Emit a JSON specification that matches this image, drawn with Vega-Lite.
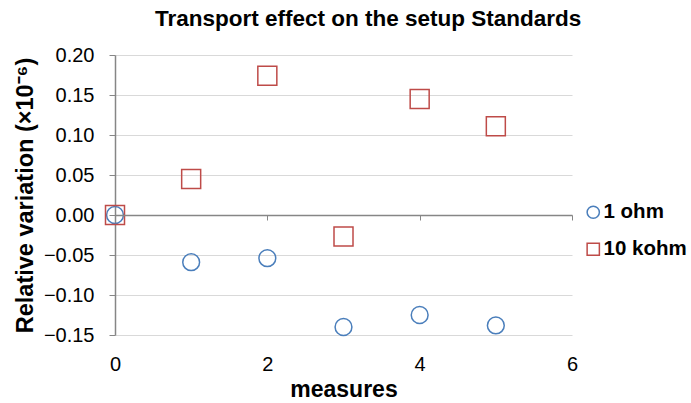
{
  "$schema": "https://vega.github.io/schema/vega-lite/v6.json",
  "width": 457,
  "height": 280,
  "autosize": {"type": "none"},
  "padding": {"left": 115, "top": 55, "right": 119, "bottom": 68},
  "background": "white",
  "title": {
    "text": "Transport effect on the setup Standards",
    "font": "Liberation Sans",
    "fontSize": 22.5,
    "fontWeight": "bold",
    "color": "black",
    "anchor": "start",
    "frame": "group",
    "dx": 40,
    "baseline": "alphabetic",
    "offset": -3
  },
  "data": {
    "values": [
      {"measure": 0, "value": 0.0, "series": "1 ohm"},
      {"measure": 1, "value": -0.059, "series": "1 ohm"},
      {"measure": 2, "value": -0.054, "series": "1 ohm"},
      {"measure": 3, "value": -0.140, "series": "1 ohm"},
      {"measure": 4, "value": -0.125, "series": "1 ohm"},
      {"measure": 5, "value": -0.138, "series": "1 ohm"},
      {"measure": 0, "value": 0.0, "series": "10 kohm"},
      {"measure": 1, "value": 0.045, "series": "10 kohm"},
      {"measure": 2, "value": 0.174, "series": "10 kohm"},
      {"measure": 3, "value": -0.027, "series": "10 kohm"},
      {"measure": 4, "value": 0.145, "series": "10 kohm"},
      {"measure": 5, "value": 0.111, "series": "10 kohm"}
    ]
  },
  "encoding": {
    "y": {
      "field": "value",
      "type": "quantitative",
      "scale": {"domain": [-0.15, 0.2], "nice": false, "zero": false},
      "axis": {
        "title": "Relative variation (×10⁻⁶)",
        "titleFont": "Liberation Sans",
        "titleFontSize": 23.5,
        "titleFontWeight": "bold",
        "titleColor": "black",
        "titlePadding": 6,
        "values": [-0.15, -0.1, -0.05, 0, 0.05, 0.1, 0.15, 0.2],
        "format": ".2f",
        "labelFont": "Liberation Sans",
        "labelFontSize": 20,
        "labelColor": "black",
        "labelPadding": 15,
        "labelFlush": false,
        "tickSize": 6,
        "tickColor": "#868686",
        "domainColor": "#868686",
        "domainWidth": 1.5,
        "grid": true,
        "gridColor": "#d9d9d9",
        "gridWidth": 1.2
      }
    }
  },
  "layer": [
    {
      "mark": {"type": "point", "opacity": 0},
      "encoding": {
        "x": {
          "field": "measure",
          "type": "quantitative",
          "scale": {"domain": [0, 6], "nice": false},
          "axis": {
            "orient": "bottom",
            "offset": -120,
            "labels": false,
            "title": null,
            "grid": false,
            "values": [0, 2, 4, 6],
            "ticks": true,
            "tickSize": 5,
            "tickColor": "#868686",
            "domainColor": "#868686",
            "domainWidth": 1.5,
            "zindex": 1
          }
        }
      }
    },
    {
      "transform": [{"filter": "datum.series === '1 ohm'"}],
      "mark": {"type": "point", "filled": false, "strokeWidth": 1.5, "opacity": 1, "size": 283},
      "encoding": {
        "x": {
          "field": "measure",
          "type": "quantitative",
          "scale": {"domain": [0, 6], "nice": false},
          "axis": {
            "orient": "bottom",
            "title": "measures",
            "titleFont": "Liberation Sans",
            "titleFontSize": 23,
            "titleFontWeight": "bold",
            "titleColor": "black",
            "titlePadding": 4,
            "values": [0, 2, 4, 6],
            "labelFont": "Liberation Sans",
            "labelFontSize": 20,
            "labelColor": "black",
            "labelPadding": 19,
            "labelFlush": false,
            "ticks": false,
            "domain": false,
            "grid": false
          }
        },
        "color": {
          "field": "series",
          "type": "nominal",
          "scale": {"domain": ["1 ohm", "10 kohm"], "range": ["#4a7ebb", "#be4b48"]},
          "legend": {
            "title": null,
            "orient": "none",
            "legendX": 468,
            "legendY": 147,
            "padding": 0,
            "symbolSize": 150,
            "symbolStrokeWidth": 1.5,
            "symbolFillColor": "transparent",
            "labelFont": "Liberation Sans",
            "labelFontSize": 20.5,
            "labelFontWeight": "bold",
            "labelColor": "black",
            "labelOffset": 0,
            "rowPadding": 16
          }
        },
        "shape": {
          "field": "series",
          "type": "nominal",
          "scale": {"domain": ["1 ohm", "10 kohm"], "range": ["circle", "square"]}
        }
      }
    },
    {
      "transform": [{"filter": "datum.series === '10 kohm'"}],
      "mark": {"type": "point", "filled": false, "strokeWidth": 1.5, "opacity": 1, "size": 361},
      "encoding": {
        "x": {
          "field": "measure",
          "type": "quantitative",
          "scale": {"domain": [0, 6], "nice": false},
          "axis": null
        },
        "color": {
          "field": "series",
          "type": "nominal",
          "scale": {"domain": ["1 ohm", "10 kohm"], "range": ["#4a7ebb", "#be4b48"]}
        },
        "shape": {
          "field": "series",
          "type": "nominal",
          "scale": {"domain": ["1 ohm", "10 kohm"], "range": ["circle", "square"]}
        }
      }
    }
  ],
  "resolve": {"axis": {"x": "independent"}},
  "config": {"view": {"stroke": null}}
}
